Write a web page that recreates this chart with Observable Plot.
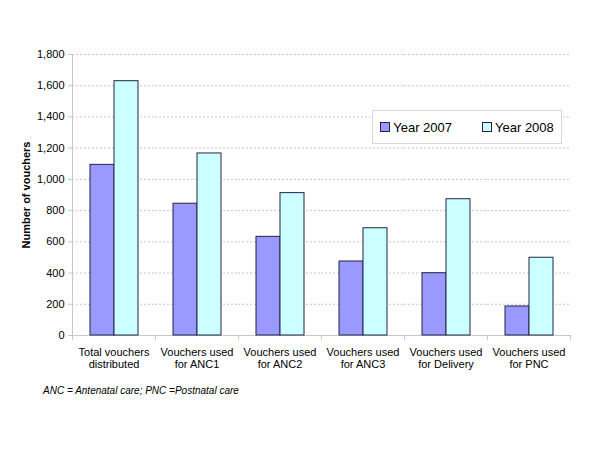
<!DOCTYPE html>
<html>
<head>
<meta charset="utf-8">
<script src="https://cdn.jsdelivr.net/npm/d3@7"></script>
<script src="https://cdn.jsdelivr.net/npm/@observablehq/plot@0.6"></script>
<style>
  html, body { margin: 0; padding: 0; background: #fff; }
  #wrap { position: relative; width: 600px; height: 450px; font-family: "Liberation Sans", Arial, sans-serif; }
  #ylabel { position: absolute; left: 26px; top: 195px; transform: translate(-50%, -50%) rotate(-90deg); font-size: 11px; font-weight: bold; white-space: nowrap; color: #000; }
  #legend { position: absolute; left: 372px; top: 110px; width: 190px; height: 34px; border: 1px solid #d8d8d8; box-sizing: border-box; display: flex; align-items: center; justify-content: center; gap: 30px; font-size: 13px; color: #000; background: #fff; }
  #legend .item { display: flex; align-items: center; gap: 3px; }
  #legend .sw { width: 8px; height: 8px; border: 1px solid #22224a; }
  #note { position: absolute; left: 43px; top: 385px; font-size: 10px; font-style: italic; color: #000; }
</style>
</head>
<body>
<div id="wrap">
  <div id="chart"></div>
  <div id="ylabel"></div>
  <div id="legend"></div>
  <div id="note"></div>
</div>
<script>
const categories = [
  "Total vouchers\ndistributed",
  "Vouchers used\nfor ANC1",
  "Vouchers used\nfor ANC2",
  "Vouchers used\nfor ANC3",
  "Vouchers used\nfor Delivery",
  "Vouchers used\nfor PNC"
];
const years = ["Year 2007", "Year 2008"];
const values2007 = [1093, 844, 632, 474, 399, 186];
const values2008 = [1629, 1166, 912, 687, 873, 498];
const yTicks = [0, 200, 400, 600, 800, 1000, 1200, 1400, 1600, 1800];
const colors = ["#9999ff", "#ccffff"];
const yLabel = "Number of vouchers";
const footnote = "ANC = Antenatal care; PNC =Postnatal care";

const data = categories.flatMap((c, i) => [
  {category: c, year: years[0], value: values2007[i]},
  {category: c, year: years[1], value: values2008[i]}
]);

const chart = Plot.plot({
  width: 600,
  height: 380,
  marginLeft: 71,
  marginRight: 30,
  marginTop: 54,
  marginBottom: 45,
  style: {fontFamily: "'Liberation Sans', Arial, sans-serif", fontSize: "11px", color: "#000", background: "#fff"},
  fx: {domain: categories, padding: 0, label: null},
  x: {domain: years, paddingInner: 0, paddingOuter: 0.726, axis: null},
  y: {domain: [0, 1800], label: null},
  color: {domain: years, range: colors},
  marks: [
    Plot.gridY(yTicks.filter(d => d > 0), {stroke: "#c8c8c8", strokeOpacity: 1, strokeDasharray: "2,2"}),
    Plot.ruleY([0], {stroke: "#c8c8c8"}),
    Plot.frame({anchor: "left", stroke: "#c8c8c8", facetAnchor: "left"}),
    Plot.frame({anchor: "left", stroke: "#c8c8c8", insetTop: 281, insetBottom: -4}),
    Plot.frame({anchor: "right", stroke: "#c8c8c8", insetTop: 281, insetBottom: -4, facetAnchor: "right"}),
    Plot.barY(data, {fx: "category", x: "year", y: "value", fill: "year", stroke: "#22224a", strokeWidth: 1}),
    Plot.axisY(yTicks, {tickFormat: d3.format(","), tickSize: 4, tickPadding: 4, stroke: "#c8c8c8", fill: "#000", label: null}),
    Plot.axisFx({anchor: "bottom", tickSize: 0, tickPadding: 12, label: null, fill: "#000", lineHeight: 1.08})
  ]
});
document.getElementById("chart").appendChild(chart);

document.getElementById("ylabel").textContent = yLabel;
document.getElementById("note").textContent = footnote;
const legend = document.getElementById("legend");
years.forEach((y, i) => {
  const item = document.createElement("div");
  item.className = "item";
  const sw = document.createElement("span");
  sw.className = "sw";
  sw.style.background = colors[i];
  const t = document.createElement("span");
  t.textContent = y;
  item.appendChild(sw);
  item.appendChild(t);
  legend.appendChild(item);
});
</script>
</body>
</html>
